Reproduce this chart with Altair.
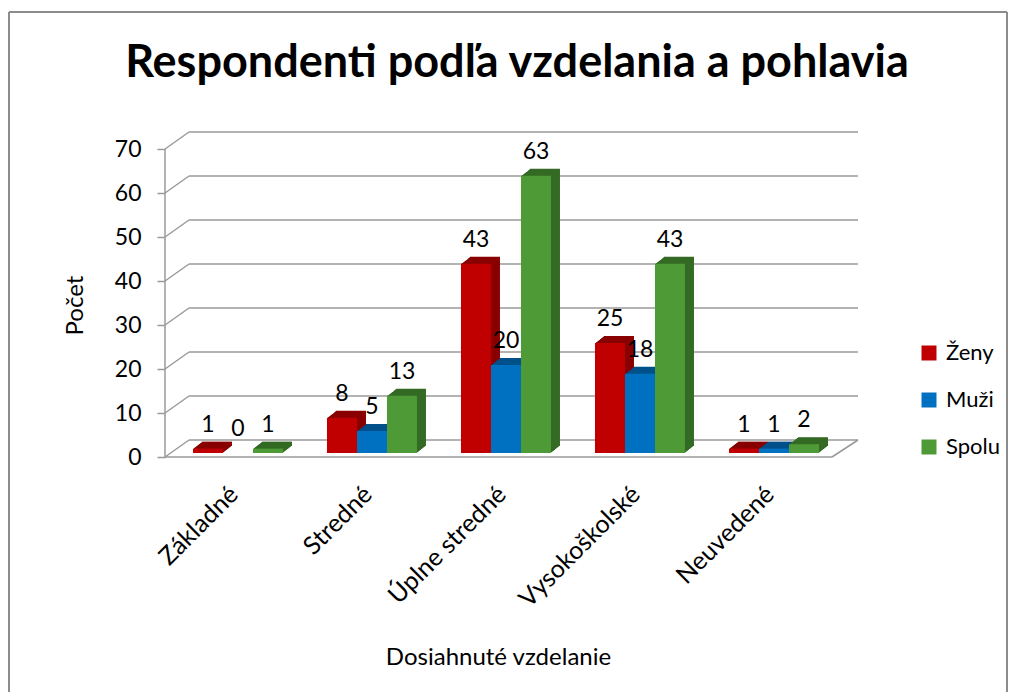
import altair as alt
import pandas as pd

title_text = "Respondenti podľa vzdelania a pohlavia"
categories = ["Základné", "Stredné", "Úplne stredné", "Vysokoškolské", "Neuvedené"]
series_names = ["Ženy", "Muži", "Spolu"]
zeny = [1, 8, 43, 25, 1]
muzi = [0, 5, 20, 18, 1]
spolu = [1, 13, 63, 43, 2]
y_ticks = [0, 10, 20, 30, 40, 50, 60, 70]
front_colors = ["#C00000", "#0070C0", "#4E9A36"]
side_colors = ["#880000", "#00508A", "#346A24"]

rows = []
for s, vals, side in zip(series_names, [zeny, muzi, spolu], side_colors):
    for c, v in zip(categories, vals):
        rows.append({"kat": c, "ser": s, "v": v, "side": side})
df = pd.DataFrame(rows)
grid = pd.DataFrame({"v": y_ticks})
one = pd.DataFrame({"a": [0]})

W, H = 670, 308
PAD = {"left": 163, "top": 137, "right": 167, "bottom": 239}
DEPTH_X, DEPTH_Y = 9, 7
FRONT_DROP = 4
BACK_RISE = -13
BACK_X0, BACK_X1 = 18, 687
AXIS_X = -6
FLOOR_X1 = 661
FONT = "Lato"
GRID = "#9A9A9A"
GW = 1.5

yscale = alt.Scale(domain=[0, 70], nice=False, zero=True)
xscale = alt.Scale(domain=categories, paddingInner=0.328, paddingOuter=0.164)

x_enc = alt.X(
    "kat:N", sort=categories, scale=xscale,
    axis=alt.Axis(
        title="Dosiahnuté vzdelanie", labelAngle=-45, labelAlign="right",
        labelBaseline="middle", labelPadding=37, labelOffset=-4, labelFontSize=25,
        labelFont=FONT, labelColor="black", domain=False, ticks=False, grid=False,
        titleFont=FONT, titleFontSize=24, titleFontWeight="normal", titleColor="black",
        titleY=211, titleX=327, titleBaseline="alphabetic",
    ),
)
y_axis = alt.Axis(
    values=y_ticks, title="Počet", titleFont=FONT, titleFontSize=24,
    titleFontWeight="normal", titleColor="black", titleX=-83, titleY=160,
    titleAlign="center", titleBaseline="alphabetic",
    labelFontSize=23, labelFont=FONT, labelColor="black", tickSize=8,
    tickColor=GRID, tickWidth=GW, offset=6, labelPadding=16,
    domain=False, grid=False, tickOffset=FRONT_DROP,
)
y_enc = alt.Y("v:Q", scale=yscale, axis=y_axis)

layers = []
# back wall gridlines
layers.append(
    alt.Chart(grid).mark_rule(color=GRID, strokeWidth=GW, yOffset=BACK_RISE)
    .encode(x=alt.value(BACK_X0), x2=alt.value(BACK_X1), y=y_enc)
)
# side wall diagonals
layers.append(
    alt.Chart(grid).mark_rule(color=GRID, strokeWidth=GW, yOffset=FRONT_DROP, y2Offset=BACK_RISE)
    .encode(x=alt.value(AXIS_X), x2=alt.value(BACK_X0), y=y_enc, y2=alt.Y2("v"))
)
# front axis line
layers.append(
    alt.Chart(grid).transform_aggregate(lo="min(v)", hi="max(v)")
    .mark_rule(color=GRID, strokeWidth=GW, yOffset=FRONT_DROP, y2Offset=FRONT_DROP)
    .encode(x=alt.value(AXIS_X), y=alt.Y("lo:Q", scale=yscale, axis=y_axis), y2=alt.Y2("hi"))
)
# floor front edge and right diagonal
layers.append(
    alt.Chart(grid).transform_filter(alt.datum.v == 0)
    .mark_rule(color=GRID, strokeWidth=GW, yOffset=FRONT_DROP)
    .encode(x=alt.value(AXIS_X), x2=alt.value(FLOOR_X1), y=y_enc)
)
layers.append(
    alt.Chart(grid).transform_filter(alt.datum.v == 0)
    .mark_rule(color=GRID, strokeWidth=GW, yOffset=FRONT_DROP, y2Offset=BACK_RISE)
    .encode(x=alt.value(FLOOR_X1), x2=alt.value(BACK_X1), y=y_enc, y2=alt.Y2("v"))
)

# 3D extrusion (painter's order: deepest first)
for k in range(DEPTH_X, 0, -1):
    dy = -k * DEPTH_Y / DEPTH_X
    layers.append(
        alt.Chart(df).mark_bar(yOffset=dy, y2Offset=dy, strokeWidth=0)
        .encode(
            x=x_enc,
            xOffset=alt.XOffset("ser:N", sort=series_names,
                                scale=alt.Scale(domain=series_names, range=[k, 90 + k],
                                                paddingInner=0, paddingOuter=0)),
            y=y_enc,
            fill=alt.Fill("side:N", scale=None, legend=None),
        )
    )

# front faces
layers.append(
    alt.Chart(df).mark_bar(strokeWidth=0)
    .encode(
        x=x_enc,
        xOffset=alt.XOffset("ser:N", sort=series_names,
                            scale=alt.Scale(domain=series_names, range=[0, 90],
                                            paddingInner=0, paddingOuter=0)),
        y=y_enc,
        color=alt.Color(
            "ser:N", sort=series_names,
            scale=alt.Scale(domain=series_names, range=front_colors),
            legend=alt.Legend(
                title=None, orient="none", legendX=747, legendY=197,
                symbolType="square", symbolSize=225, symbolStrokeWidth=0,
                labelFontSize=22, labelFont=FONT, labelColor="black",
                labelOffset=6, rowPadding=25, padding=0,
            ),
        ),
    )
)
# value labels (point positions at bar centres)
layers.append(
    alt.Chart(df).mark_text(baseline="alphabetic", dy=-17, fontSize=23, font=FONT, color="black")
    .encode(
        x=x_enc,
        xOffset=alt.XOffset("ser:N", sort=series_names,
                            scale=alt.Scale(domain=series_names, range=[15, 75],
                                            paddingOuter=0)),
        y=y_enc,
        text=alt.Text("v:Q"),
    )
)
# chart title
layers.append(
    alt.Chart(one).mark_text(
        text=title_text, fontSize=45, font=FONT, fontWeight="bold", color="black",
        align="center", baseline="alphabetic",
    ).encode(x=alt.value(346), y=alt.value(-68))
)
# outer border (left, top, right)
BL, BT, BR, BB = -162, -133, 836, H + PAD["bottom"]
layers.append(alt.Chart(one).mark_rule(color="#8C8C8C", strokeWidth=2)
              .encode(x=alt.value(BL), y=alt.value(BT), y2=alt.value(BB)))
layers.append(alt.Chart(one).mark_rule(color="#8C8C8C", strokeWidth=2)
              .encode(x=alt.value(BL), x2=alt.value(BR), y=alt.value(BT)))
layers.append(alt.Chart(one).mark_rule(color="#8C8C8C", strokeWidth=2)
              .encode(x=alt.value(BR), y=alt.value(BT), y2=alt.value(BB)))

chart = (
    alt.layer(*layers)
    .resolve_scale(xOffset="independent")
    .properties(
        width=W, height=H,
        autosize=alt.AutoSizeParams(type="none"),
        padding=PAD,
        background="white",
    )
    .configure_view(strokeWidth=0, stroke=None)
)

chart.save("out.html", embed_options={"renderer": "svg", "actions": False})
